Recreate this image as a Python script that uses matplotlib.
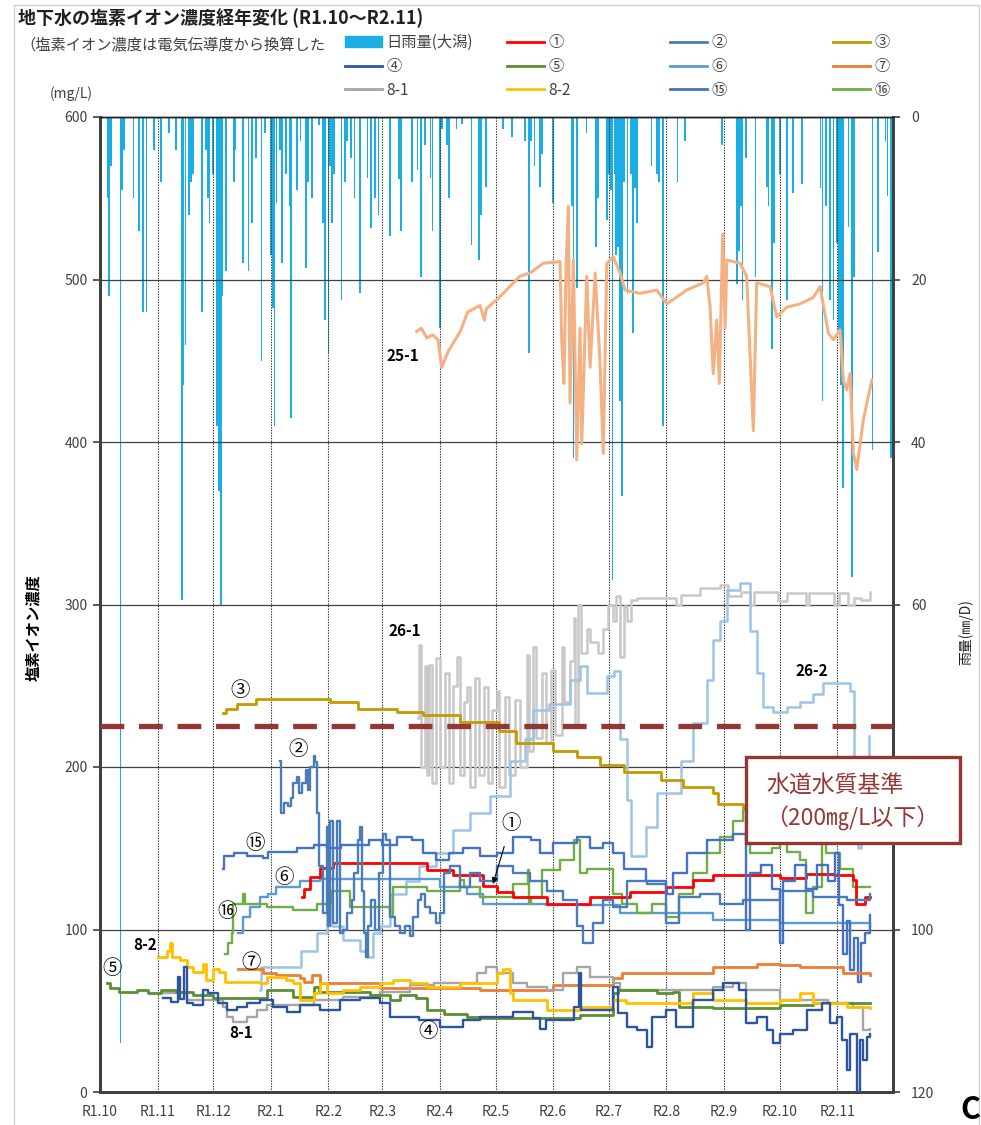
import numpy as np
import pandas as pd
import matplotlib
matplotlib.use("Agg")
import matplotlib.pyplot as plt
from matplotlib.patches import Patch, Rectangle
from matplotlib.lines import Line2D

plt.rcParams['font.family'] = ['Noto Sans CJK JP', 'DejaVu Sans']

# day numbers count from R1.10.1 (2019-10-01)
start = pd.Timestamp("2019-10-01")
end = pd.Timestamp("2020-12-01")
month_labels = ["R1.10", "R1.11", "R1.12", "R2.1", "R2.2", "R2.3", "R2.4",
                "R2.5", "R2.6", "R2.7", "R2.8", "R2.9", "R2.10", "R2.11"]

# daily rainfall (Ogata), mm/day
rain_day = [4, 5, 6, 11, 12, 13, 18, 21, 23, 25, 29, 33, 37, 41, 44, 45, 46, 48, 49, 50,
            55, 57, 58, 59, 61, 63, 64, 65, 66, 68, 72, 73, 77, 80, 82, 84, 87, 89, 92, 93,
            94, 95, 97, 98, 100, 102, 103, 106, 108, 111, 112, 114, 118, 120, 121, 123, 124, 125, 126, 130,
            132, 133, 135, 137, 140, 144, 146, 148, 150, 156, 161, 162, 168, 171, 173, 175, 178, 179, 183, 184,
            187, 188, 192, 195, 200, 204, 205, 208, 217, 222, 229, 231, 232, 234, 237, 238, 244, 254, 255, 257,
            262, 267, 268, 273, 274, 275, 276, 277, 278, 279, 280, 281, 282, 284, 286, 287, 288, 289, 297, 300,
            301, 303, 311, 315, 335, 343, 344, 345, 346, 348, 353, 359, 360, 362, 363, 366, 370, 373, 378, 388,
            389, 391, 393, 395, 397, 398, 399, 400, 403, 405, 406, 416, 419, 423, 424, 426, 427]
rain_mm = [10, 22, 6, 114, 9, 4, 10, 14, 24, 24, 4, 8, 2, 4, 59.5, 33, 28, 12, 8, 7,
           24, 4, 10, 13, 7, 38, 46, 60, 22, 19, 8, 4, 18, 19, 13, 5, 30, 2, 17, 23.5,
           38, 10.6, 4, 18, 7, 11, 37, 9, 3, 18.6, 8, 10, 1, 13, 25, 29, 6, 13, 7, 22.5,
           8, 3, 5, 10, 21.7, 7.5, 13.7, 10, 12, 14.7, 7.6, 14, 8, 6.5, 19.7, 3.5, 7.5, 14, 26, 1.5,
           3.5, 10, 1.5, 0.8, 15.7, 17.6, 12, 8.6, 1.5, 2.5, 3, 29, 3, 6, 8.6, 4.5, 10.6, 11, 42, 21,
           2, 16, 10, 12.7, 7, 9, 57, 7, 17, 16, 35, 46.7, 8, 21.7, 7, 26.6, 8.7, 13, 6, 7,
           8, 38, 8, 3, 3.5, 20.5, 16.5, 11, 22.5, 5, 19.7, 8.6, 11, 28.5, 15.5, 7, 22.5, 9.4, 8.2, 8.7,
           35, 11, 22.5, 25, 15.5, 26.5, 33, 45.6, 13.5, 56.6, 19.7, 41, 16.6, 3, 9.7, 42, 10]

# chloride ion (mg/L): (day, value)
w1 = [(108.6, 120), (110, 125), (113, 132.5), (118.5, 137.6), (125.6, 140.7), (156, 140.7), (176, 136.6),
      (190, 133.5), (206.4, 127), (213.6, 123), (222.6, 120), (240.5, 116), (264, 120), (285.4, 123),
      (305, 126), (319.5, 130.5), (330, 133.5), (353.6, 133.5), (366, 132), (380, 134), (395, 133.5),
      (405.7, 130.5), (407, 116), (412, 120), (414.6, 120)]
w2 = [(97, 204), (97.3, 172), (99, 178), (101, 176), (103, 181), (104, 190), (106, 194), (107, 184),
      (109, 190), (111, 198), (112, 186), (113, 200), (115, 207), (116, 203), (117, 172), (118, 139),
      (120, 110), (122, 163), (123, 102), (124, 167), (125.6, 104), (127.5, 167), (129, 98), (131, 100),
      (133, 110), (135.5, 118), (137, 135), (139, 155), (140, 163), (141, 124), (142, 98), (143, 83),
      (144.5, 102), (146, 118), (148, 100), (150.4, 135), (152.6, 159), (154, 155), (156, 108), (159, 102),
      (161.5, 98), (164, 102), (167, 96), (168.7, 108), (171.4, 118), (173, 122), (175, 114), (177.7, 110),
      (181, 104), (183, 110), (185, 135), (188.5, 139), (194, 126), (199, 135), (204.6, 130), (213.6, 139),
      (222.6, 135), (231.6, 130), (240.5, 124), (249.5, 118), (256.7, 102), (260, 92), (265.6, 104),
      (271, 118), (276.4, 114), (283.6, 130), (294.4, 128), (305, 104), (312, 120), (323, 122), (334, 116),
      (346, 118), (366, 124), (384, 120), (402, 118), (414.6, 122)]
w3 = [(66, 233), (68, 236), (74, 239), (84, 242), (124, 240), (139, 236), (160, 234), (174, 232),
      (194, 228), (215, 222), (224, 215), (244, 210), (257, 206), (269, 201), (282, 197), (302, 192),
      (314, 188), (330, 184), (333, 177), (346, 175), (365, 168), (385, 160), (400, 155), (414.6, 153)]
w4 = [(34, 57.6), (38, 55.6), (42, 71), (43, 57), (45, 77), (46.7, 54.6), (50, 53.5), (55.6, 62.8),
      (58, 60.7), (63.7, 54.6), (68.2, 50.5), (73.6, 52.5), (79, 54.6), (86, 56.6), (93.3, 52.5),
      (100.5, 49.4), (107.7, 53.5), (118.5, 50.5), (129, 56.6), (140, 57.6), (150.8, 54.6), (156, 46.3),
      (172, 44.3), (183, 40.2), (195.6, 44.3), (204.6, 46.3), (222.6, 49.4), (233, 45.3), (237, 39),
      (240, 44.3), (255, 52.5), (258, 73), (259, 50.5), (276.4, 64.8), (279, 48.4), (283.6, 40.2),
      (289, 38), (294.4, 27.9), (297, 46.3), (305, 50.5), (310, 40.2), (319.5, 56.6), (330, 62.8),
      (335.7, 67), (344, 62.8), (348, 42.3), (353.6, 46.3), (359, 38), (362.6, 30), (366, 36), (373, 38),
      (380.6, 50.5), (389, 54.5), (393, 42.3), (397, 46), (399.4, 32), (402, 13.5), (404, 36),
      (407.5, 0), (409, 32), (411, 20), (413, 34), (414.6, 36)]
w5 = [(3.6, 67), (5.4, 63.8), (10, 61.7), (20, 62.5), (26, 61), (33, 62.5), (41, 61.7), (50, 60),
      (61, 57.6), (75, 58), (89.8, 62.8), (104, 58.7), (115, 64.8), (118, 61.7), (145.4, 59.7),
      (156, 56.6), (161.5, 59.7), (170, 58), (176, 50.5), (185, 48), (197.5, 46.3), (205, 45.3),
      (258.5, 47.4), (276.4, 60.7), (279, 62.8), (300, 61), (308.7, 61.7), (312, 52.5), (330, 51.6),
      (366, 53.5), (384, 54.5), (414.6, 54.5)]
w6 = [(74.5, 98), (77, 108), (81, 114), (86, 120), (90.6, 122), (95, 126), (107.7, 130), (118.5, 131),
      (181, 131), (183, 126), (197.5, 122), (206, 116), (240, 115), (280, 110), (330, 106), (366, 104),
      (414.6, 102)]
w7 = [(74.5, 76), (88, 73), (95, 72), (107.7, 70), (110, 68), (114, 72), (118.5, 67), (150.8, 64),
      (204.6, 62.8), (244, 65.8), (276.4, 70), (281, 73), (319.5, 73), (330, 77), (353.6, 79), (366, 78),
      (377, 77), (400, 73), (414.6, 72)]
w8_1 = [(32.3, 60.7), (46.7, 56.6), (61, 56.6), (66.4, 52.5), (68.2, 46.3), (71.8, 43.3), (79, 46.3),
        (84.4, 50.5), (90, 53.5), (115, 56.6), (131, 58.7), (150.8, 61.7), (167, 65.8), (180, 67),
        (202.8, 73), (208, 77), (213.6, 73), (222.6, 67), (230, 64.8), (240.5, 62.8), (249.5, 73),
        (256.7, 77), (264, 71), (276.4, 67), (280, 62.8), (330, 64.8), (341, 67), (348, 62.8), (366, 56.6),
        (392, 55), (405.7, 52.5), (411, 38), (414.6, 39)]
w8_2 = [(31.4, 83), (36, 87), (37.7, 91.5), (39, 83), (43, 81), (46.7, 77), (50, 74), (55.6, 79), (57, 69),
        (61, 75.8), (64, 74), (67.3, 68), (86, 67), (89.8, 71), (100, 69), (104, 67), (107.7, 56.6),
        (115, 60.7), (118.5, 67), (122, 61), (131, 62.8), (140, 64.8), (150.8, 67), (158, 69), (167, 67),
        (176, 64.8), (194, 67), (213.6, 73), (217, 75.8), (221, 60.7), (222.6, 56.6), (240.5, 50.5),
        (258.5, 52.5), (276.4, 56.6), (283, 55), (312, 55), (319.5, 60.7), (330, 56.6), (348, 54.5),
        (366, 56.6), (377, 60.7), (384, 55), (402, 52.5), (414.6, 51.6)]
w15 = [(66.4, 137), (67, 145), (72, 147), (79, 145), (88, 144), (90.6, 148), (106, 150), (115, 152),
       (122, 150), (130, 152), (145, 155), (152, 152), (160, 157), (168, 155), (174, 147), (181, 143),
       (188, 147), (195.6, 150), (204.6, 145), (213.6, 147), (222.6, 157), (232, 155), (237, 147),
       (244, 153), (256.7, 157), (264, 150), (271, 153), (276.4, 147), (282, 137), (294, 130), (305, 122),
       (308.7, 135), (316, 147), (326.7, 155), (341, 159), (348, 100), (350, 135), (356, 140), (362, 125),
       (366, 92), (368, 130), (374, 140), (380, 125), (386, 140), (392, 130), (396, 147), (398, 115),
       (400, 85), (402, 105), (404, 75), (406, 95), (408, 68), (410, 92), (412, 98), (414.6, 109)]
w16 = [(67.3, 85), (69, 91.5), (71, 97.6), (71.5, 116), (77, 122), (78, 116), (89.8, 114), (104, 112),
       (116.7, 116), (124.8, 124), (134.6, 114), (156, 108), (158, 126), (176, 124), (194, 130.5),
       (196, 126), (204.6, 120), (222.6, 128), (230.6, 136.6), (231, 116), (232, 120), (238, 136.6),
       (247.7, 142.8), (255, 155), (258.5, 134.6), (262, 137), (276.4, 122), (281, 116), (289, 110),
       (297, 116), (305, 108), (312, 122), (319.5, 134.6), (326.7, 147), (333.9, 157), (341, 167),
       (346.4, 173.5), (348, 155), (350, 147), (362, 150), (366, 153), (370, 148), (377, 142.8), (380, 110),
       (384, 126), (388.6, 153), (391, 147), (398.5, 137), (405.7, 126), (414.6, 126)]
w25_1 = [(170.5, 468), (173, 470), (176, 464), (179, 466), (182, 463), (184, 446), (187.6, 456), (194, 468),
         (198, 480), (204.6, 484), (207, 475), (208, 482), (215, 489), (226, 502), (231.6, 504),
         (238.7, 510), (247.7, 511), (248.6, 463), (249.8, 436), (251, 510), (252.2, 545), (253.1, 424),
         (254.9, 512), (256.7, 389), (258.5, 470), (259.4, 399), (262.1, 502), (263.9, 446), (266.6, 504),
         (269.2, 450), (271, 393), (272.9, 510), (276.4, 514), (280, 504), (282.7, 493.5), (290.8, 491.5),
         (299.8, 493.5), (305.2, 485), (315.9, 493.5), (324.9, 498), (326.7, 502), (328.5, 483),
         (330.2, 442), (332.1, 475), (333.5, 436), (335.3, 528), (336.6, 470), (337.5, 512), (344.6, 510),
         (348.2, 502), (351.8, 407), (353.6, 498), (360.8, 495.6), (364.4, 477), (369.8, 483), (377, 485),
         (384.1, 489), (387.7, 495.6), (392.2, 467), (394.9, 463), (398.5, 469), (400.3, 438), (402.1, 432),
         (403.9, 442), (405.7, 393), (407.5, 383), (411, 413.5), (415.6, 438)]
w26_1 = [(171, 230), (172, 275), (173, 200), (175, 262), (176, 195), (177, 263), (179, 190), (181, 267),
         (183, 200), (186, 258), (188, 190), (190, 250), (192, 268), (194, 195), (196, 240), (197.5, 249),
         (199, 188), (202, 255), (204, 195), (207, 249), (209, 190), (211, 235), (213.6, 247), (215, 188),
         (218, 243), (220, 195), (223.5, 241), (226, 200), (229.8, 269), (231, 210), (233, 274), (235, 218),
         (238, 258), (240, 215), (243, 260), (245, 220), (248.6, 274), (250, 240), (253, 265), (255, 292),
         (256, 225), (257.5, 300), (259, 270), (262, 285), (264, 277), (266.6, 277), (268, 270), (271, 285),
         (273.7, 300), (276, 290), (278, 305), (280, 268), (282, 299), (284, 290), (286, 303), (289, 304),
         (295, 304), (305, 304), (310, 300), (313, 306), (320, 306), (323, 310), (334, 312), (338, 305),
         (345, 308), (350, 300), (352, 308), (360, 308), (365, 302), (370, 307), (378, 307), (380, 300),
         (382, 307), (390, 307), (395, 300), (398, 307), (403, 300), (406, 304), (410, 303), (414.6, 308)]
w26_2 = [(86, 63), (86.5, 77), (106, 77), (108, 87), (116.7, 98), (122, 114), (125, 102), (131, 93.5),
         (140, 87), (143.6, 83), (147, 98), (150.8, 102), (156, 122), (165, 130), (172, 139), (181, 147),
         (190, 161), (199, 171.5), (210, 182), (221, 204), (229, 217), (233, 235), (242, 239), (253, 253.5),
         (258.5, 262), (262, 245.5), (273, 256), (277, 259), (280, 217), (283.6, 180), (286, 145),
         (290.8, 145), (294, 163), (299.8, 184), (305, 184), (312.6, 204), (319.5, 227), (326.7, 253.5),
         (330, 278), (334, 290), (337.5, 309), (344.6, 313), (350, 284), (353.6, 258), (357, 237),
         (362.6, 234), (370, 237), (377, 240), (384, 245), (389.5, 251.5), (404, 247), (406, 200),
         (408, 150), (410, 170), (412, 200), (414, 219)]

standard = 225   # level of the dashed standard line as drawn

W, H = 981, 1125


def fx(x):
    return x / W


def fy(y):
    return 1 - y / H


def to_dates(days):
    return start + pd.to_timedelta(np.asarray(days, dtype=float), unit="D")


def draw(ax, pts, color, lw=1.7, steps=True, z=3):
    d, v = zip(*pts)
    ax.plot(to_dates(d), v, color=color, lw=lw, zorder=z,
            drawstyle="steps-post" if steps else "default")


fig = plt.figure(figsize=(W / 100, H / 100), dpi=100)
ax = fig.add_axes([fx(100), fy(1092), (893 - 100) / W, (1092 - 117) / H])
ax2 = ax.twinx()

rain_color = "#1AAEE5"
ax2.bar(to_dates(rain_day), rain_mm, width=0.9, color=rain_color, linewidth=0)
ax2.set_ylim(120, 0)
ax2.set_yticks(range(0, 121, 20))
ax.set_zorder(ax2.get_zorder() + 1)
ax.patch.set_visible(False)

colors = {
    "1": "#FF0000", "2": "#4A7DB8", "3": "#C49A00", "4": "#2E54A0",
    "5": "#5A8F32", "6": "#5B9BD5", "7": "#ED7D31", "8-1": "#A5A5A5",
    "8-2": "#FFC000", "15": "#4472C4", "16": "#70AD47",
}

draw(ax, w25_1, "#F4B183", lw=2.2, steps=False)
draw(ax, w26_1, "#C8C8C8", lw=1.8)
draw(ax, w26_2, "#9DC3E6", lw=1.8)
draw(ax, w3, colors["3"], lw=2.0)
draw(ax, w6, colors["6"])
draw(ax, w16, colors["16"])
draw(ax, w1, colors["1"], lw=2.0)
draw(ax, w2, colors["2"])
draw(ax, w15, colors["15"])
draw(ax, w7, colors["7"], lw=2.0)
draw(ax, w8_1, colors["8-1"])
draw(ax, w5, colors["5"], lw=2.0)
draw(ax, w8_2, colors["8-2"], lw=2.0)
draw(ax, w4, colors["4"])

ax.axhline(standard, color="#943634", lw=3.8, dashes=(4.5, 2.8), zorder=10)

ax.set_xlim(start, end)
ax.set_ylim(0, 600)
ax.set_yticks(range(0, 601, 100))
month_ticks = pd.date_range(start, periods=len(month_labels), freq="MS")
ax.set_xticks(month_ticks)
ax.set_xticklabels(month_labels)
ax.grid(axis="y", color="#404040", lw=0.9)
ax.grid(axis="x", color="#303030", lw=0.8, linestyle=(0, (1.2, 1.2)))
ax.set_axisbelow(True)

for a in (ax, ax2):
    for side in ("left", "bottom", "right"):
        a.spines[side].set_color("#404040")
        a.spines[side].set_linewidth(2)
    a.spines["top"].set_color("#202020")
    a.spines["top"].set_linewidth(1)
ax.tick_params(axis="x", length=0, pad=9, labelsize=10, labelcolor="#404040")
ax.tick_params(axis="y", length=5, width=1.2, color="#404040", labelsize=10,
               labelcolor="#404040", pad=4)
ax2.tick_params(axis="y", length=5, width=1.2, color="#404040", labelsize=10,
                labelcolor="#404040", pad=8)

# series labels
labels = [("③", 75.4, 247), ("②", 106.6, 210.5), ("⑮", 83.5, 153), ("⑥", 99, 131.7),
          ("⑯", 68.4, 110.8), ("⑦", 81.3, 80), ("⑤", 6.5, 75.7), ("④", 176.6, 37)]
for t, d, v in labels:
    ax.text(to_dates([d])[0], v, t, fontsize=14, ha="center", va="center", zorder=12)
names = [("8-2", 24.2, 90.5), ("8-1", 76, 36.3), ("25-1", 163, 453), ("26-1", 164, 283.7),
         ("26-2", 383.4, 259)]
for t, d, v in names:
    ax.text(to_dates([d])[0], v, t, fontsize=11, fontweight="bold", ha="center", va="center",
            zorder=12)
ax.annotate("①", xy=(to_dates([211.6])[0], 128), xytext=(to_dates([221.3])[0], 165),
            fontsize=14, ha="center", va="center", zorder=12,
            arrowprops=dict(arrowstyle="-|>", color="black", lw=0.8, mutation_scale=9,
                            shrinkA=7, shrinkB=0))

# standard box
fig.add_artist(Rectangle((fx(746), fy(843)), (960 - 746) / W, (843 - 757) / H,
                         transform=fig.transFigure, facecolor="white",
                         edgecolor="#943634", lw=2.4, zorder=20))
fig.text(fx(835), fy(785), "水道水質基準", fontsize=16.5, color="#953735",
         ha="center", va="center", zorder=21)
fig.text(fx(852), fy(818), "（200㎎/L以下）", fontsize=16.5, color="#953735",
         ha="center", va="center", zorder=21)

# titles and axis names
fig.text(fx(18), fy(18), "地下水の塩素イオン濃度経年変化 (R1.10～R2.11)", fontsize=13,
         fontweight="bold", ha="left", va="center", color="#202020")
fig.text(fx(20), fy(45), "（塩素イオン濃度は電気伝導度から換算した", fontsize=11,
         ha="left", va="center", color="#404040")
fig.text(fx(50), fy(94), "(mg/L)", fontsize=10, ha="left", va="center", color="#404040")
fig.text(fx(33), fy(628), "塩素イオン濃度", fontsize=11, fontweight="bold",
         rotation=90, ha="center", va="center")
fig.text(fx(966), fy(632), "雨量(㎜/D)", fontsize=10, rotation=90, ha="center",
         va="center", color="#202020")

# legend in four columns
def lh(c):
    return Line2D([], [], color=c, lw=2)

columns = [
    ([Patch(color=rain_color), lh(colors["4"]), lh(colors["8-1"])], ["日雨量(大潟)", "④", "8-1"], 345),
    ([lh(colors["1"]), lh(colors["5"]), lh(colors["8-2"])], ["①", "⑤", "8-2"], 507),
    ([lh(colors["2"]), lh(colors["6"]), lh(colors["15"])], ["②", "⑥", "⑮"], 670),
    ([lh(colors["3"]), lh(colors["7"]), lh(colors["16"])], ["③", "⑦", "⑯"], 833),
]
for hs, ls, x in columns:
    leg = fig.legend(hs, ls, loc="upper left", bbox_to_anchor=(fx(x), fy(34)),
                     frameon=False, fontsize=11, handlelength=2.4, handletextpad=0.3,
                     labelspacing=0.45, borderpad=0, borderaxespad=0)
    for t in leg.get_texts():
        t.set_color("#404040")

fig.add_artist(Rectangle((fx(14), fy(1130)), (979 - 14) / W, (1130 - 5) / H,
                         transform=fig.transFigure, fill=False, edgecolor="#cfcfcf", lw=1))
fig.text(fx(960), fy(1110), "C", fontsize=22, fontweight="bold", ha="left", va="center")

fig.savefig("out.png", dpi=100)
